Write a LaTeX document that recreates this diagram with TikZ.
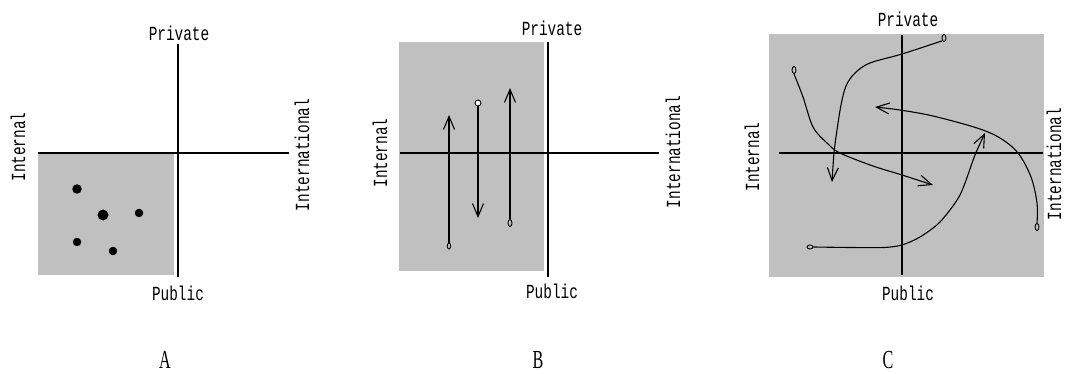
\documentclass[tikz,border=0pt]{standalone}
\usepackage{fontspec}
\usetikzlibrary{arrows.meta,shapes.geometric}
\newfontfamily\axisfont[FakeStretch=0.72]{Liberation Mono}
\newfontfamily\panelfont[FakeStretch=0.62]{Liberation Serif}
\definecolor{panelgray}{RGB}{192,192,192}
\tikzset{
  axis/.style={line width=1.2pt, black},
  region/.style={fill=panelgray, draw=none},
  axislabel/.style={font=\axisfont\fontsize{20}{20}\selectfont, inner sep=0pt},
  sidelabel/.style={axislabel, rotate=90},
  paneltag/.style={font=\panelfont\fontsize{26}{26}\selectfont, inner sep=0pt},
  dot/.style={circle, fill=black, inner sep=0pt, minimum size=#1},
  endpt/.style={ellipse, draw=black, line width=0.9pt, fill=panelgray, inner sep=0pt,
                minimum width=4pt, minimum height=7pt},
  move/.style={line width=1.1pt, -{Straight Barb[length=13pt,width=11pt,line width=1.1pt]}},
}
\begin{document}
\begin{tikzpicture}[x=1pt,y=-1pt]
\useasboundingbox (0,0) rectangle (1065,374);

% ---------- panel A ----------
\fill[region] (38,154) rectangle (174,275);
\coordinate (aN) at (178,44);  \coordinate (aS) at (178,277);
\coordinate (aW) at (38,153);  \coordinate (aE) at (289,153);
\draw[axis] (aN) -- (aS);
\draw[axis] (aW) -- (aE);
\node[axislabel] (aPriv) at (179,33) {Private};
\node[axislabel] (aPub)  at (178,293) {Public};
\node[sidelabel] (aInt)  at (18,147) {Internal};
\node[sidelabel] (aIntl) at (302,155) {International};
\node[dot=9.5pt] (d1) at (77,189) {};
\node[dot=11pt]  (d2) at (103,215) {};
\node[dot=8.5pt] (d3) at (139,213) {};
\node[dot=8.5pt] (d4) at (77,242) {};
\node[dot=8.5pt] (d5) at (113,251) {};
\node[paneltag] (tagA) at (165,360) {A};

% ---------- panel B ----------
\fill[region] (399,42) rectangle (544,271);
\coordinate (bN) at (548,42);  \coordinate (bS) at (548,277);
\coordinate (bW) at (400,153); \coordinate (bE) at (659,153);
\draw[axis] (bN) -- (bS);
\draw[axis] (bW) -- (bE);
\node[axislabel] (bPriv) at (552,28) {Private};
\node[axislabel] (bPub)  at (552,291) {Public};
\node[sidelabel] (bInt)  at (380,153) {Internal};
\node[sidelabel] (bIntl) at (673,152) {International};
\node[endpt, minimum width=3.5pt, minimum height=6pt] (b1) at (449,246) {};
\coordinate (b1t) at (449,115);
\draw[move] (b1.north) -- (b1t);
\node[endpt, fill=white, minimum width=6pt, minimum height=6pt] (b2) at (478,103) {};
\coordinate (b2t) at (478,218);
\draw[move] (b2.south) -- (b2t);
\node[endpt] (b3) at (510,223) {};
\coordinate (b3t) at (510,88);
\draw[move] (b3.north) -- (b3t);
\node[paneltag] (tagB) at (538,360) {B};

% ---------- panel C ----------
\fill[region] (769,34) rectangle (1044,277);
\coordinate (cN) at (902,35);  \coordinate (cS) at (902,275);
\coordinate (cW) at (779,153); \coordinate (cE) at (1043,153);
\draw[axis] (cN) -- (cS);
\draw[axis] (cW) -- (cE);
\node[axislabel] (cPriv) at (908,19) {Private};
\node[axislabel] (cPub)  at (908,293) {Public};
\node[sidelabel] (cInt)  at (752,157) {Internal};
\node[sidelabel] (cIntl) at (1054,164) {International};

\node[endpt] (c1) at (794,70) {};
\draw[move] plot[smooth, tension=0.55] coordinates
  {(c1.south) (803,97) (813,127) (827,143) (840,153) (873,166) (902,175) (933,185)};

\node[endpt] (c2) at (944,38) {};
\draw[move] plot[smooth, tension=0.55] coordinates
  {(c2.south west) (902,54) (870,63) (855,73) (846,86) (841,105) (837,130) (834,153) (832,182)};

\node[endpt, minimum width=6pt, minimum height=4pt] (c3) at (810,247) {};
\draw[move] plot[smooth, tension=0.45] coordinates
  {(c3.east) (850,247.5) (884,247.5) (902,245) (920,237) (940,222) (960,195) (975,155) (985,133)};

\node[endpt] (c4) at (1037,227) {};
\draw[move] plot[smooth, tension=0.55] coordinates
  {(c4.north) (1037,203) (1031,177) (1018,153) (1000,138) (977,128) (933,116) (900,110) (875,107)};

\node[paneltag] (tagC) at (888,360) {C};
\end{tikzpicture}
\end{document}
